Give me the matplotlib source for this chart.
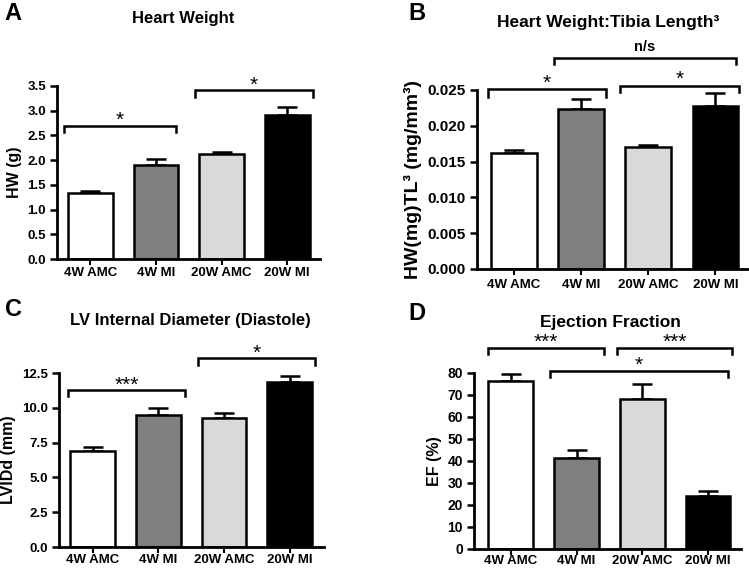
import matplotlib
matplotlib.use("Agg")
import matplotlib.pyplot as plt

plt.rcParams['font.family'] = ['Liberation Sans', 'DejaVu Sans']
plt.rcParams['font.weight'] = 'bold'

groups = ["4W AMC", "4W MI", "20W AMC", "20W MI"]
colors = ["#ffffff", "#7f7f7f", "#d9d9d9", "#000000"]

hw_mean = [1.33, 1.91, 2.13, 2.92]
hw_err = [0.05, 0.11, 0.04, 0.16]

hwtl_mean = [0.01626, 0.0224, 0.0171, 0.02277]
hwtl_err = [0.00033, 0.0014, 0.0002, 0.0018]

lvidd_mean = [6.9, 9.5, 9.25, 11.85]
lvidd_err = [0.28, 0.45, 0.35, 0.42]

ef_mean = [76.5, 41.5, 68.3, 23.9]
ef_err = [2.9, 3.7, 6.5, 2.5]

W, H = 749, 568
fig = plt.figure(figsize=(W / 100, H / 100), dpi=100)


def px_axes(l, r, t, b):
    return fig.add_axes([l / W, 1 - b / H, (r - l) / W, (b - t) / H])


def draw(ax, means, errs, ymax, yticks, fmt, xlim, brackets, ylabel,
         ytick_size=9.5, ylabel_size=11.5, xpad=1.0):
    x = list(range(len(groups)))
    ax.bar(x, means, width=0.68, color=colors, edgecolor="black", linewidth=1.8, zorder=2)
    ax.errorbar(x, means, yerr=[[0] * len(errs), errs], fmt="none", ecolor="black",
                elinewidth=1.8, capsize=7.5, capthick=1.8, zorder=1)
    ax.set_xlim(*xlim)
    ax.set_ylim(0, ymax)
    ax.set_yticks(yticks)
    ax.set_yticklabels([fmt.format(v) for v in yticks], fontsize=ytick_size, fontweight="bold")
    ax.set_xticks(x)
    ax.set_xticklabels(groups, fontsize=9.5, fontweight="bold")
    ax.tick_params(axis="x", length=4, width=1.5, pad=xpad)
    ax.tick_params(axis="y", length=5, width=1.8, pad=3)
    for s in ["top", "right"]:
        ax.spines[s].set_visible(False)
    for s in ["left", "bottom"]:
        ax.spines[s].set_linewidth(2)
    ax.set_ylabel(ylabel, fontsize=ylabel_size, fontweight="bold")
    for (x0, x1, y, drop, label, ty) in brackets:
        ax.plot([x0, x0, x1, x1], [y - drop, y, y, y - drop], color="black", lw=1.8,
                clip_on=False, solid_joinstyle="miter")
        if label == "n/s":
            ax.text((x0 + x1) / 2, ty, label, ha="center", va="center", fontsize=10.5,
                    fontweight="bold", clip_on=False)
        else:
            ax.text((x0 + x1) / 2, ty, label, ha="center", va="center", fontsize=15,
                    fontweight="normal", clip_on=False)


# Panel A
axA = px_axes(57, 320, 86, 259)
draw(axA, hw_mean, hw_err, 3.5, [0.0, 0.5, 1.0, 1.5, 2.0, 2.5, 3.0, 3.5], "{:.1f}",
     (-0.51, 3.5),
     [(-0.4, 1.3, 2.70, 0.13, "*", 2.80),
      (1.6, 3.39, 3.41, 0.14, "*", 3.51)],
     "HW (g)", xpad=1.5)

# Panel B
axB = px_axes(477, 749, 90, 269)
draw(axB, hwtl_mean, hwtl_err, 0.025, [0.0, 0.005, 0.010, 0.015, 0.020, 0.025], "{:.3f}",
     (-0.55, 3.5),
     [(-0.39, 1.37, 0.02509, 0.001, "*", 0.0259),
      (1.58, 3.35, 0.02556, 0.0009, "*", 0.02645),
      (0.6, 3.3, 0.02941, 0.0008, "n/s", 0.03104)],
     "HW(mg)TL³ (mg/mm³)", ytick_size=11, ylabel_size=14, xpad=3)

# Panel C
axC = px_axes(59, 324, 373, 547)
draw(axC, lvidd_mean, lvidd_err, 12.5, [0.0, 2.5, 5.0, 7.5, 10.0, 12.5], "{:.1f}",
     (-0.51, 3.52),
     [(-0.37, 1.4, 11.30, 0.48, "***", 11.62),
      (1.6, 3.38, 13.55, 0.45, "*", 13.9)],
     "LVIDd (mm)", xpad=1)

# Panel D
axD = px_axes(474, 741, 373, 549)
draw(axD, ef_mean, ef_err, 80, [0, 10, 20, 30, 40, 50, 60, 70, 80], "{:.0f}",
     (-0.56, 3.5),
     [(-0.34, 1.41, 91.5, 3.0, "***", 93.8),
      (1.61, 3.37, 91.5, 3.0, "***", 93.8),
      (0.59, 3.3, 80.9, 2.7, "*", 83.5)],
     "EF (%)", ytick_size=10, xpad=0.5)


def ftext(xp, yp, s, size):
    fig.text(xp / W, 1 - yp / H, s, ha="center", va="center", fontsize=size, fontweight="bold")


ftext(183, 18, "Heart Weight", 12)
ftext(608, 22, "Heart Weight:Tibia Length³", 12.5)
ftext(190, 320, "LV Internal Diameter (Diastole)", 12)
ftext(610, 322, "Ejection Fraction", 12.5)

ftext(13, 13, "A", 17)
ftext(417, 13, "B", 17)
ftext(13, 309, "C", 17)
ftext(417, 314, "D", 17)

fig.savefig("out.png", dpi=100)
